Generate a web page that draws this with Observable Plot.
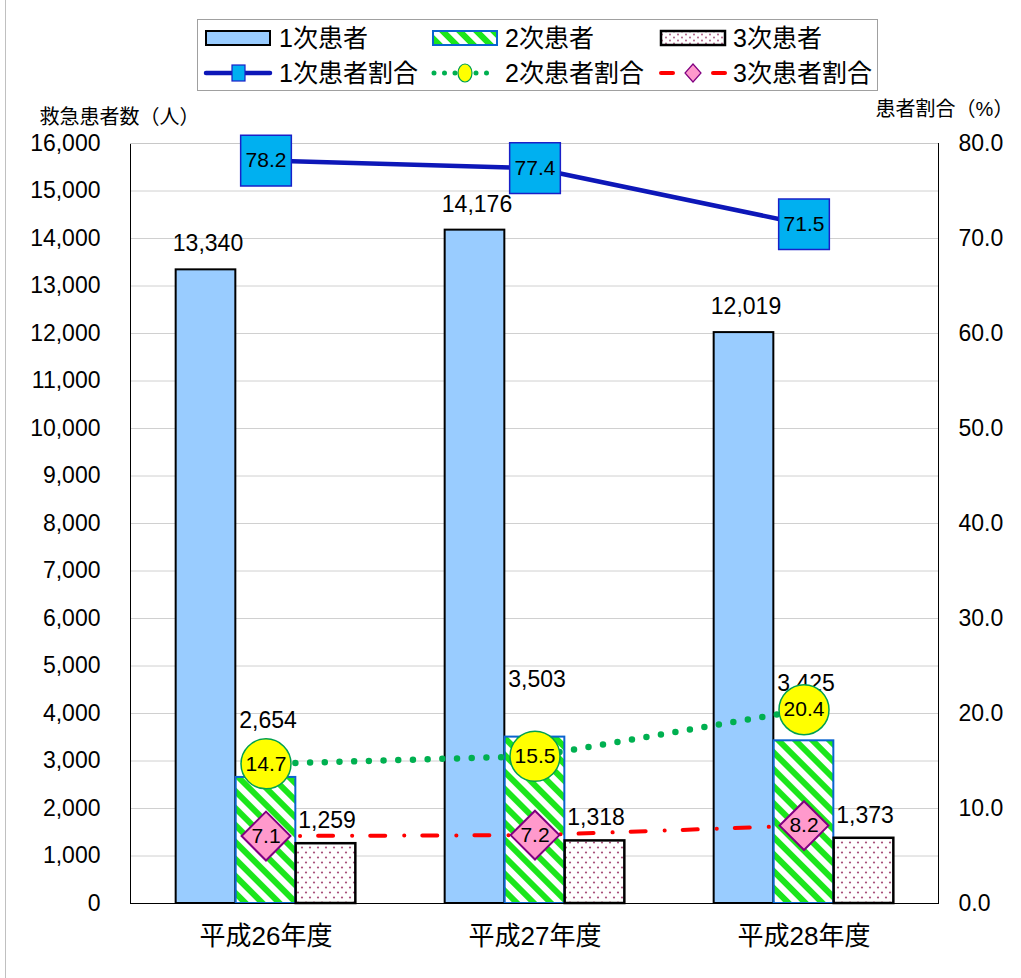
<!DOCTYPE html>
<html><head><meta charset="utf-8">
<script src="https://cdn.jsdelivr.net/npm/d3@7"></script>
<script src="https://cdn.jsdelivr.net/npm/@observablehq/plot@0.6"></script>
<style>
body{margin:0;background:#fff;}
#wrap{position:relative;width:1021px;height:978px;overflow:hidden;font-family:"Liberation Sans","Noto Sans CJK JP",sans-serif;}
#wrap svg{position:absolute;left:0;top:0;}
#edge{position:absolute;left:5px;top:0;width:1px;height:978px;background:#c0c0c0;}
</style></head><body><div id="wrap"><div id="edge"></div></div>
<script>
// ---- data ----
const years = ["平成26年度", "平成27年度", "平成28年度"];
const barSeries = ["1次患者", "2次患者", "3次患者"];
const lineSeries = ["1次患者割合", "2次患者割合", "3次患者割合"];
const primary = [13340, 14176, 12019];
const secondary = [2654, 3503, 3425];
const tertiary = [1259, 1318, 1373];
const primaryPct = [78.2, 77.4, 71.5];
const secondaryPct = [14.7, 15.5, 20.4];
const tertiaryPct = [7.1, 7.2, 8.2];
const countTicks = [0, 1000, 2000, 3000, 4000, 5000, 6000, 7000, 8000, 9000, 10000, 11000, 12000, 13000, 14000, 15000, 16000];
const pctTicks = [0, 10, 20, 30, 40, 50, 60, 70, 80];
const leftTitle = "救急患者数（人）";
const rightTitle = "患者割合（%）";

// ---- layout ----
const W = 1021, H = 978;
const mL = 130, mR = 83, mT = 143, mB = 75;
const BW = (W - mL - mR) / years.length;
const barW = 60;
const K = 16000 / 80; // percent -> count axis

const FONT = '"Liberation Sans","Noto Sans CJK JP",sans-serif';

const rows = (vals) => years.map((y, i) => ({year: y, value: vals[i]}));
const prow = (vals) => years.map((y, i) => ({year: y, pct: vals[i], v: vals[i] * K}));

function insets(i) {
  const half = BW / 2;
  return {insetLeft: half + (i - 1.5) * barW, insetRight: half - (i - 0.5) * barW};
}

const defs = () => {
  const d = d3.create("svg:defs");
  const s = d.append("pattern").attr("id", "stripes").attr("patternUnits", "userSpaceOnUse")
    .attr("width", 12).attr("height", 12).attr("patternTransform", "rotate(-45)");
  s.append("rect").attr("width", 12).attr("height", 12).attr("fill", "#fff");
  s.append("rect").attr("width", 6).attr("height", 12).attr("fill", "#1be61b");
  const p = d.append("pattern").attr("id", "dots").attr("patternUnits", "userSpaceOnUse")
    .attr("width", 8).attr("height", 10);
  p.append("rect").attr("width", 8).attr("height", 10).attr("fill", "#fff");
  p.append("circle").attr("cx", 2).attr("cy", 2.5).attr("r", 1.1).attr("fill", "#a8507a");
  p.append("circle").attr("cx", 6).attr("cy", 7.5).attr("r", 1.1).attr("fill", "#a8507a");
  return d.node();
};

const chart = Plot.plot({
  width: W, height: H,
  marginLeft: mL, marginRight: mR, marginTop: mT, marginBottom: mB,
  style: {fontFamily: FONT, fontSize: "23px", color: "#000", background: "transparent"},
  x: {type: "band", domain: years, padding: 0, label: null},
  y: {domain: [0, 16000], label: null},
  marks: [
    defs,
    Plot.gridY(countTicks, {stroke: "#d0d0d0", strokeOpacity: 1}),
    Plot.frame({stroke: "#000"}),
    Plot.ruleY([16000], {stroke: "#c8c8c8"}),
    Plot.axisY({anchor: "left", ticks: countTicks, tickFormat: d3.format(","), tickSize: 0, tickPadding: 30, fontSize: 23, label: null}),
    Plot.axisY({anchor: "right", ticks: pctTicks.map(p => p * K), tickFormat: d => (d / K).toFixed(1), tickSize: 0, tickPadding: 20, fontSize: 23, label: null}),
    Plot.axisX({tickSize: 0, tickPadding: 23, fontSize: 26, label: null}),
    Plot.text([leftTitle], {frameAnchor: "top-left", dx: -11, dy: -34, fontSize: 20, textAnchor: "middle"}),
    Plot.text([rightTitle], {frameAnchor: "top-right", dx: 6, dy: -42, fontSize: 20, textAnchor: "middle"}),
    // bars
    Plot.barY(rows(primary), {x: "year", y: "value", fill: "#99ccff", stroke: "#000", strokeWidth: 2, ...insets(0)}),
    Plot.barY(rows(secondary), {x: "year", y: "value", fill: "url(#stripes)", stroke: "#0a64d0", strokeWidth: 2, ...insets(1)}),
    Plot.barY(rows(tertiary), {x: "year", y: "value", fill: "url(#dots)", stroke: "#000", strokeWidth: 2.5, ...insets(2)}),
    Plot.ruleY([0], {stroke: "#000"}),
    // bar labels
    Plot.text(rows(primary), {x: "year", y: "value", text: d => d3.format(",")(d.value), dx: -58, dy: -26, fontSize: 23}),
    Plot.text(rows(secondary), {x: "year", y: "value", text: d => d3.format(",")(d.value), dx: 2, dy: -57, fontSize: 23}),
    Plot.text(rows(tertiary), {x: "year", y: "value", text: d => d3.format(",")(d.value), dx: 61, dy: -23, fontSize: 23}),
    // ratio lines
    Plot.line(prow(primaryPct), {x: "year", y: "v", stroke: "#0d17b8", strokeWidth: 4.5}),
    Plot.line(prow(secondaryPct), {x: "year", y: "v", stroke: "#00b050", strokeWidth: 6.5, strokeDasharray: "0 14.7", strokeLinecap: "round"}),
    Plot.line(prow(tertiaryPct), {x: "year", y: "v", stroke: "#ff0000", strokeWidth: 4, strokeDasharray: "15 19 0.1 18", strokeLinecap: "round"}),
    Plot.dot(prow(primaryPct), {x: "year", y: "v", symbol: "square", r: 28.6, fill: "#00b0f0", stroke: "#1a20c8", strokeWidth: 1.5}),
    Plot.dot(prow(secondaryPct), {x: "year", y: "v", symbol: "circle", r: 25, fill: "#ffff00", stroke: "#00a050", strokeWidth: 1.5}),
    Plot.dot(prow(tertiaryPct), {x: "year", y: "v", symbol: "diamond2", r: 22, fill: "#ff99cc", stroke: "#800080", strokeWidth: 2}),
    Plot.text(prow(primaryPct), {x: "year", y: "v", text: d => d.pct.toFixed(1), fontSize: 21}),
    Plot.text(prow(secondaryPct), {x: "year", y: "v", text: d => d.pct.toFixed(1), fontSize: 21}),
    Plot.text(prow(tertiaryPct), {x: "year", y: "v", text: d => d.pct.toFixed(1), fontSize: 21})
  ]
});
document.getElementById("wrap").appendChild(chart);

// ---- legend ----
const lg = d3.select("#wrap").append("svg").attr("width", W).attr("height", 100)
  .style("font-family", FONT).style("font-size", "25px");
const ld = lg.append("defs");
const ls = ld.append("pattern").attr("id", "lgStripes").attr("patternUnits", "userSpaceOnUse")
  .attr("width", 12).attr("height", 12).attr("patternTransform", "rotate(-45)");
ls.append("rect").attr("width", 12).attr("height", 12).attr("fill", "#fff");
ls.append("rect").attr("width", 6).attr("height", 12).attr("fill", "#1be61b");
const lp = ld.append("pattern").attr("id", "lgDots").attr("patternUnits", "userSpaceOnUse").attr("width", 8).attr("height", 6);
lp.append("rect").attr("width", 8).attr("height", 6).attr("fill", "#fff");
lp.append("circle").attr("cx", 2).attr("cy", 1.5).attr("r", 0.9).attr("fill", "#a8507a");
lp.append("circle").attr("cx", 6).attr("cy", 4.5).attr("r", 0.9).attr("fill", "#a8507a");

lg.append("rect").attr("x", 197.5).attr("y", 19.5).attr("width", 680).attr("height", 71)
  .attr("fill", "#fff").attr("stroke", "#a0a0a0");
const colX = [206, 433, 661];
const textX = [279, 505, 733];
const barStyles = [
  {fill: "#99ccff", stroke: "#000", sw: 2},
  {fill: "url(#lgStripes)", stroke: "#0a64d0", sw: 2},
  {fill: "url(#lgDots)", stroke: "#000", sw: 2.5}
];
barSeries.forEach((name, i) => {
  const st = barStyles[i];
  lg.append("rect").attr("x", colX[i]).attr("y", 31).attr("width", 64).attr("height", 14)
    .attr("fill", st.fill).attr("stroke", st.stroke).attr("stroke-width", st.sw);
  lg.append("text").attr("x", textX[i]).attr("y", 38).attr("dy", "0.36em").text(name);
});
const ly = 73;
// line 1
lg.append("line").attr("x1", colX[0]).attr("x2", colX[0] + 64).attr("y1", ly).attr("y2", ly)
  .attr("stroke", "#0d17b8").attr("stroke-width", 4.5).attr("stroke-linecap", "round");
lg.append("rect").attr("x", colX[0] + 26).attr("y", ly - 8).attr("width", 13).attr("height", 16)
  .attr("fill", "#00b0f0").attr("stroke", "#1a20c8").attr("stroke-width", 1.2);
// line 2
lg.append("line").attr("x1", colX[1] + 1).attr("x2", colX[1] + 64).attr("y1", ly).attr("y2", ly)
  .attr("stroke", "#00b050").attr("stroke-width", 5).attr("stroke-dasharray", "0 10.5").attr("stroke-linecap", "round");
lg.append("ellipse").attr("cx", colX[1] + 32).attr("cy", ly).attr("rx", 7).attr("ry", 9)
  .attr("fill", "#ffff00").attr("stroke", "#00a050").attr("stroke-width", 1.2);
// line 3
lg.append("line").attr("x1", colX[2]).attr("x2", colX[2] + 12).attr("y1", ly).attr("y2", ly)
  .attr("stroke", "#ff0000").attr("stroke-width", 4).attr("stroke-linecap", "round");
lg.append("line").attr("x1", colX[2] + 52).attr("x2", colX[2] + 64).attr("y1", ly).attr("y2", ly)
  .attr("stroke", "#ff0000").attr("stroke-width", 4).attr("stroke-linecap", "round");
lg.append("path").attr("d", `M${colX[2] + 32},${ly - 9}l8,9l-8,9l-8,-9z`)
  .attr("fill", "#ff99cc").attr("stroke", "#800080").attr("stroke-width", 1.2);
lineSeries.forEach((name, i) => {
  lg.append("text").attr("x", textX[i]).attr("y", ly).attr("dy", "0.36em").text(name);
});
</script></body></html>
